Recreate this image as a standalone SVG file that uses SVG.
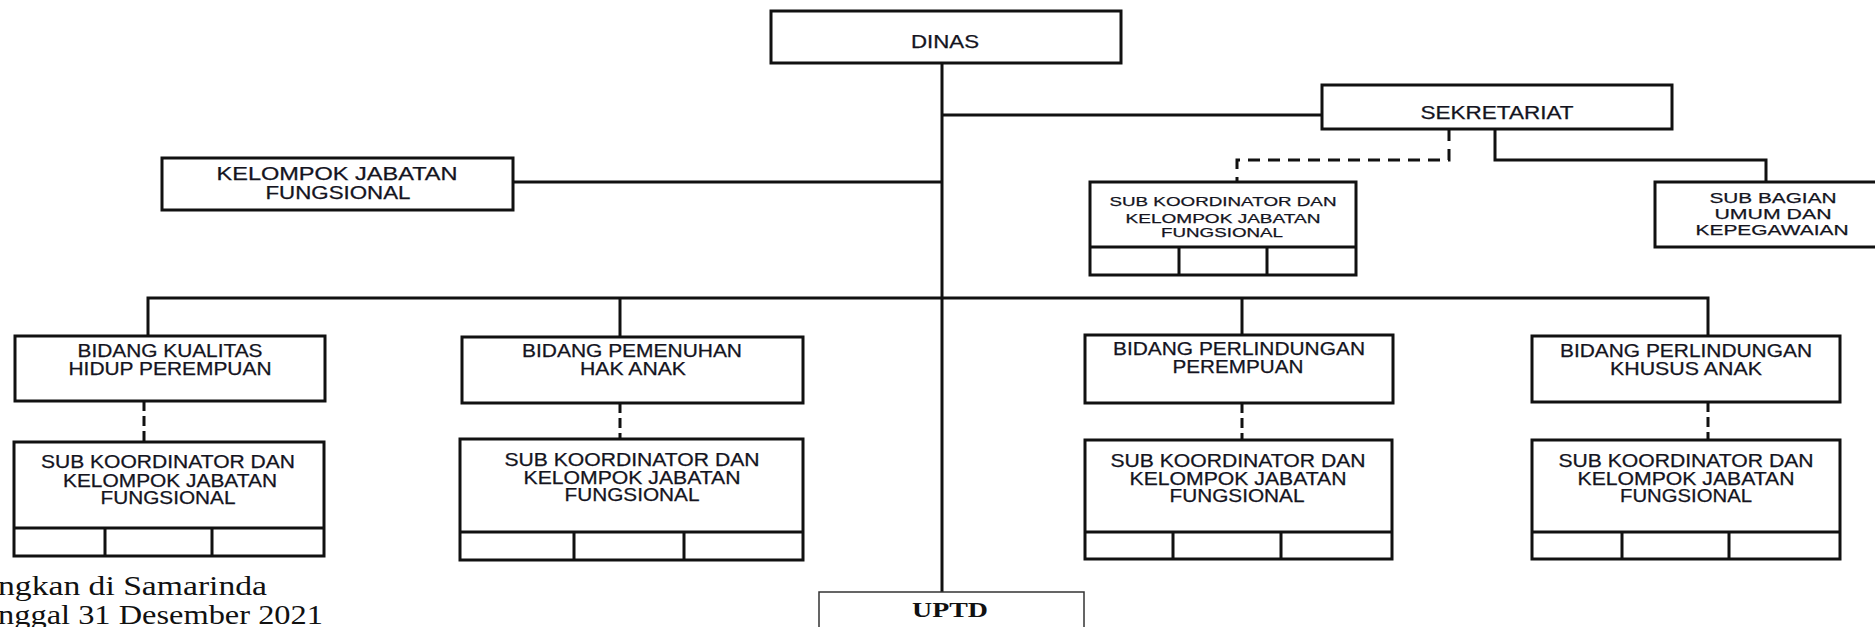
<svg xmlns="http://www.w3.org/2000/svg" width="1875" height="627" viewBox="0 0 1875 627">
<style>
.box{fill:#fff;stroke:#111;stroke-width:3}
.ln{fill:none;stroke:#111;stroke-width:3}
.dv{fill:none;stroke:#111;stroke-width:3;stroke-dasharray:10 5}
.dh{fill:none;stroke:#111;stroke-width:3;stroke-dasharray:12 8}
.t{font-family:"Liberation Sans",Arial,sans-serif;font-size:17.5px;fill:#14141e;stroke:#14141e;stroke-width:0.25;text-anchor:middle}
.s{font-size:13.5px}
.m{font-size:15.5px}
.f{font-family:"Liberation Serif","Times New Roman",serif;font-size:27px;fill:#111}
.u{font-family:"Liberation Serif","Times New Roman",serif;font-size:20px;font-weight:bold;fill:#111;text-anchor:middle}
</style>
<rect width="1875" height="627" fill="#fff"/>
<g id="connectors">
<path class="ln" d="M942 63V592"/>
<path class="ln" d="M942 115H1322"/>
<path class="ln" d="M513 182H942"/>
<path class="dh" d="M1449 129V160H1237V182"/>
<path class="ln" d="M1495 129V160H1766V182"/>
<path class="ln" d="M148 336V298H1708V336"/>
<path class="ln" d="M620 298V337"/>
<path class="ln" d="M1242 298V335"/>
<path class="dv" d="M144 401V442"/>
<path class="dv" d="M620 403V439"/>
<path class="dv" d="M1242 403V440"/>
<path class="dv" d="M1708 402V440"/>
</g>
<g id="dinas">
<rect class="box" x="771" y="11" width="350" height="52"/>
<text class="t" x="945" y="48" textLength="68" lengthAdjust="spacingAndGlyphs">DINAS</text>
</g>
<g id="sekretariat">
<rect class="box" x="1322" y="85" width="350" height="44"/>
<text class="t" x="1497" y="119" textLength="153" lengthAdjust="spacingAndGlyphs">SEKRETARIAT</text>
</g>
<g id="kelompok-jabatan">
<rect class="box" x="162" y="158" width="351" height="52"/>
<text class="t" x="337" y="180" textLength="241" lengthAdjust="spacingAndGlyphs">KELOMPOK JABATAN</text>
<text class="t" x="338" y="199" textLength="145" lengthAdjust="spacingAndGlyphs">FUNGSIONAL</text>
</g>
<g id="sub-koord-sekretariat">
<rect class="box" x="1090" y="182" width="266" height="93"/>
<path class="ln" d="M1090 247H1356M1179 247V275M1267 247V275"/>
<text class="t s" x="1223" y="206" textLength="227" lengthAdjust="spacingAndGlyphs">SUB KOORDINATOR DAN</text>
<text class="t s" x="1223" y="223" textLength="195" lengthAdjust="spacingAndGlyphs">KELOMPOK JABATAN</text>
<text class="t s" x="1222" y="237" textLength="122" lengthAdjust="spacingAndGlyphs">FUNGSIONAL</text>
</g>
<g id="sub-bagian">
<rect class="box" x="1655" y="182" width="235" height="65"/>
<text class="t m" x="1773" y="203" textLength="127" lengthAdjust="spacingAndGlyphs">SUB BAGIAN</text>
<text class="t m" x="1773" y="219" textLength="117" lengthAdjust="spacingAndGlyphs">UMUM DAN</text>
<text class="t m" x="1772" y="235" textLength="153" lengthAdjust="spacingAndGlyphs">KEPEGAWAIAN</text>
</g>
<g id="bidang-kualitas">
<rect class="box" x="15" y="336" width="310" height="65"/>
<text class="t" x="170" y="357" textLength="185" lengthAdjust="spacingAndGlyphs">BIDANG KUALITAS</text>
<text class="t" x="170" y="375" textLength="203" lengthAdjust="spacingAndGlyphs">HIDUP PEREMPUAN</text>
</g>
<g id="sub-koord-kualitas">
<rect class="box" x="14" y="442" width="310" height="114"/>
<path class="ln" d="M14 528H324M105 528V556M212 528V556"/>
<text class="t" x="168" y="468" textLength="254" lengthAdjust="spacingAndGlyphs">SUB KOORDINATOR  DAN</text>
<text class="t" x="170" y="487" textLength="214" lengthAdjust="spacingAndGlyphs">KELOMPOK JABATAN</text>
<text class="t" x="168" y="504" textLength="135" lengthAdjust="spacingAndGlyphs">FUNGSIONAL</text>
</g>
<g id="bidang-pemenuhan">
<rect class="box" x="462" y="337" width="341" height="66"/>
<text class="t" x="632" y="357" textLength="220" lengthAdjust="spacingAndGlyphs">BIDANG PEMENUHAN</text>
<text class="t" x="633" y="375" textLength="106" lengthAdjust="spacingAndGlyphs">HAK ANAK</text>
</g>
<g id="sub-koord-pemenuhan">
<rect class="box" x="460" y="439" width="343" height="121"/>
<path class="ln" d="M460 532H803M574 532V560M684 532V560"/>
<text class="t" x="632" y="466" textLength="255" lengthAdjust="spacingAndGlyphs">SUB KOORDINATOR  DAN</text>
<text class="t" x="632" y="484" textLength="217" lengthAdjust="spacingAndGlyphs">KELOMPOK JABATAN</text>
<text class="t" x="632" y="501" textLength="135" lengthAdjust="spacingAndGlyphs">FUNGSIONAL</text>
</g>
<g id="bidang-perlindungan-perempuan">
<rect class="box" x="1085" y="335" width="308" height="68"/>
<text class="t" x="1239" y="355" textLength="252" lengthAdjust="spacingAndGlyphs">BIDANG PERLINDUNGAN</text>
<text class="t" x="1238" y="373" textLength="131" lengthAdjust="spacingAndGlyphs">PEREMPUAN</text>
</g>
<g id="sub-koord-perempuan">
<rect class="box" x="1085" y="440" width="307" height="119"/>
<path class="ln" d="M1085 532H1392M1173 532V559M1281 532V559"/>
<text class="t" x="1238" y="467" textLength="255" lengthAdjust="spacingAndGlyphs">SUB KOORDINATOR  DAN</text>
<text class="t" x="1238" y="485" textLength="217" lengthAdjust="spacingAndGlyphs">KELOMPOK JABATAN</text>
<text class="t" x="1237" y="502" textLength="135" lengthAdjust="spacingAndGlyphs">FUNGSIONAL</text>
</g>
<g id="bidang-perlindungan-anak">
<rect class="box" x="1532" y="336" width="308" height="66"/>
<text class="t" x="1686" y="357" textLength="252" lengthAdjust="spacingAndGlyphs">BIDANG PERLINDUNGAN</text>
<text class="t" x="1686" y="375" textLength="152" lengthAdjust="spacingAndGlyphs">KHUSUS ANAK</text>
</g>
<g id="sub-koord-anak">
<rect class="box" x="1532" y="440" width="308" height="119"/>
<path class="ln" d="M1532 532H1840M1622 532V559M1729 532V559"/>
<text class="t" x="1686" y="467" textLength="255" lengthAdjust="spacingAndGlyphs">SUB KOORDINATOR  DAN</text>
<text class="t" x="1686" y="485" textLength="217" lengthAdjust="spacingAndGlyphs">KELOMPOK JABATAN</text>
<text class="t" x="1686" y="502" textLength="132" lengthAdjust="spacingAndGlyphs">FUNGSIONAL</text>
</g>
<g id="uptd">
<rect x="819" y="592" width="265" height="50" fill="#fff" stroke="#333" stroke-width="1.5"/>
<text class="u" x="950" y="617" textLength="76" lengthAdjust="spacingAndGlyphs">UPTD</text>
</g>
<g id="footer">
<text class="f" x="-2" y="595" textLength="269" lengthAdjust="spacingAndGlyphs">ngkan di Samarinda</text>
<text class="f" x="-2" y="624" textLength="325" lengthAdjust="spacingAndGlyphs">nggal 31 Desember 2021</text>
</g>
</svg>
